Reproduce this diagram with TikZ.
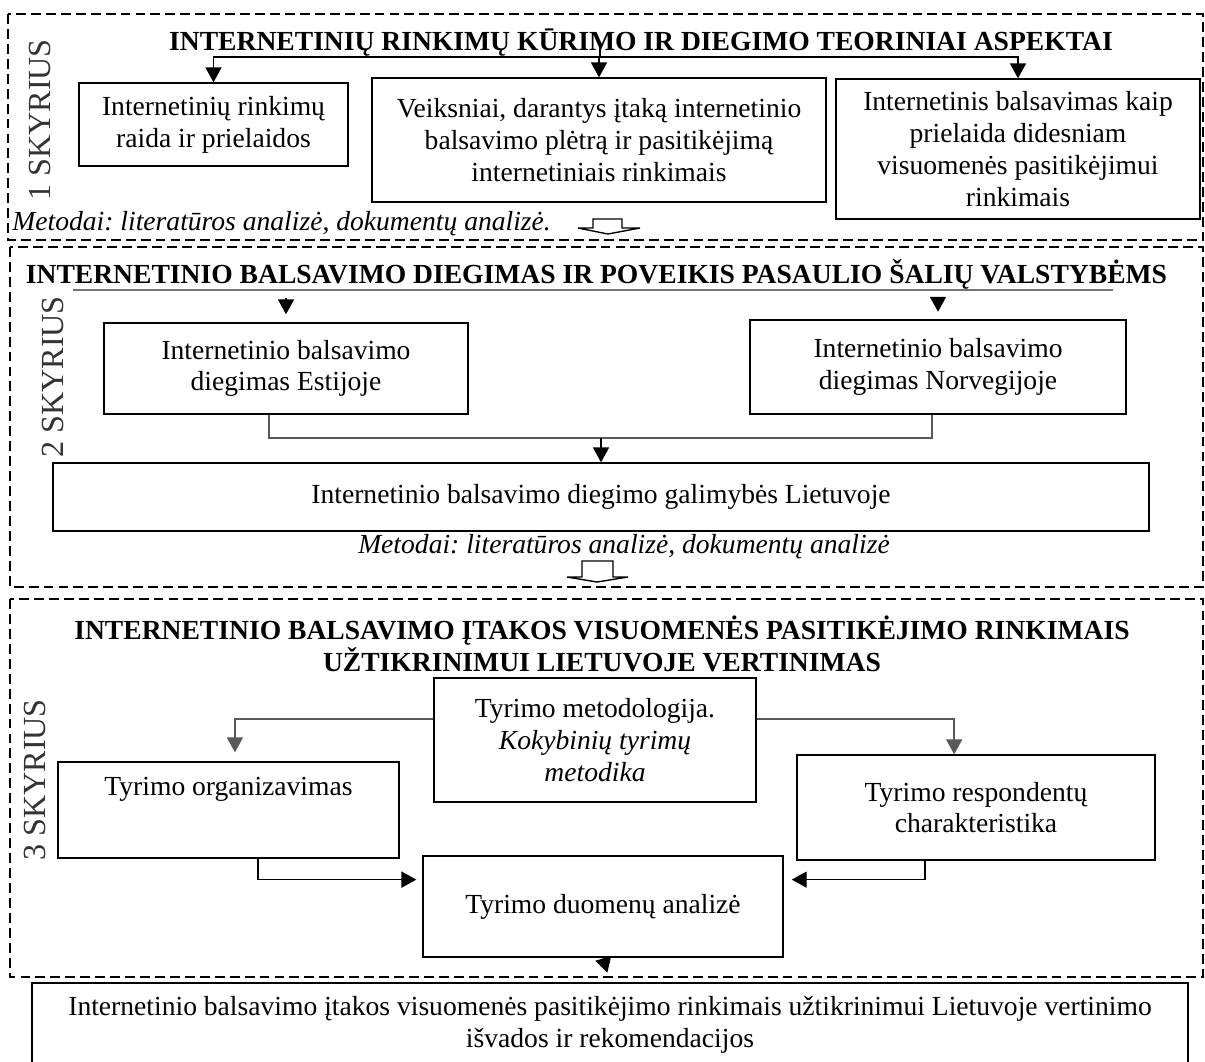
\documentclass[tikz,border=0pt]{standalone}
\usepackage{fontspec}
\setmainfont{Liberation Serif}
\usetikzlibrary{arrows.meta}
\frenchspacing

\tikzset{
  box/.style={draw, line width=0.6pt, align=center, inner sep=0pt},
  boxsize/.style 2 args={minimum width=#1*0.435pt, minimum height=#2*0.435pt},
  frame/.style={dash pattern=on 4.3pt off 2.2pt, line width=0.5pt},
  arr/.style={-{Triangle[length=6.5pt,width=7pt]}, line width=0.6pt},
  gline/.style={draw=black!65, line width=0.6pt},
  title/.style={font=\fontsize{12}{13.8}\selectfont\bfseries, align=center, inner sep=0pt},
  chapter/.style={rotate=90, font=\fontsize{14}{16}\selectfont, text=black!80, inner sep=0pt},
  method/.style={font=\fontsize{12}{13.8}\selectfont\itshape, inner sep=0pt},
  blockarr/.style={draw, line width=0.6pt, fill=white},
}

\begin{document}
\begin{tikzpicture}[x=0.435pt, y=-0.435pt, font=\fontsize{12}{13.8}\selectfont]
    \useasboundingbox (0,0) rectangle (1205,1061);
    \clip (0,0) rectangle (1205,1061);

    % dashed frames of the three chapters
    \draw[frame] (8,14) rectangle (1203,240);
    \draw[frame] (10,247) rectangle (1203,587);
    \draw[frame] (10,599) rectangle (1203,977);

    % chapter 1
    \node[chapter] (sk1) at (40,120) {1 SKYRIUS};
    \node[title, anchor=base] (t1) at (641,50) {INTERNETINIŲ RINKIMŲ KŪRIMO IR DIEGIMO TEORINIAI ASPEKTAI};
    \node[box, boxsize={269}{83}] (raida) at (213.5,124.5) {Internetinių rinkimų\\raida ir prielaidos};
    \node[box, boxsize={454}{124}] (veiksniai) at (599,140) {Veiksniai, darantys įtaką internetinio\\balsavimo plėtrą ir pasitikėjimą\\internetiniais rinkimais};
    \node[box, boxsize={364}{140}] (prielaida) at (1018,149) {Internetinis balsavimas kaip\\prielaida didesniam\\visuomenės pasitikėjimui\\rinkimais};
    \coordinate (t1split) at (600,57);
    \draw[line width=0.6pt] (t1.center -| t1split) -- (t1split);
    \draw[arr] (t1split) -| (raida.north);
    \draw[arr] (t1split) -| (prielaida.north);
    \draw[arr] (t1split -| veiksniai.north) -- (veiksniai.north);
    \node[method, anchor=base west] (met1) at (12,230) {Metodai: literatūros analizė, dokumentų analizė.};
    \draw[blockarr] (578,228) -- (593,228) -- (593,219) -- (622,219) -- (622,228) -- (640,228) -- (608,234) -- cycle;

    % chapter 2
    \node[chapter] (sk2) at (53,377) {2 SKYRIUS};
    \node[title, anchor=base] (t2) at (596.5,283) {INTERNETINIO BALSAVIMO DIEGIMAS IR POVEIKIS PASAULIO ŠALIŲ VALSTYBĖMS};
    \coordinate (u2w) at (73,290);
    \coordinate (u2e) at (1113,290);
    \draw[draw=black!55, line width=1pt] (u2w) -- (u2e);
    \node[box, boxsize={364}{91}] (estija) at (286,368.5) {Internetinio balsavimo\\diegimas Estijoje};
    \node[box, boxsize={376}{94}] (norvegija) at (938,367) {Internetinio balsavimo\\diegimas Norvegijoje};
    \draw[arr, shorten <=3.5pt, shorten >=3.5pt] (u2w -| estija.north) -- (estija.north);
    \draw[arr, shorten <=3.3pt, shorten >=3.3pt] (u2w -| norvegija.north) -- (norvegija.north);
    \node[box, boxsize={1096}{68}] (lietuva) at (601,497) {Internetinio balsavimo diegimo galimybės Lietuvoje};
    \coordinate (join2) at (601,438);
    \draw[gline] ([xshift=-7.4pt]estija.south) |- (join2) -| ([xshift=-2.6pt]norvegija.south);
    \draw[arr] (join2) -- (lietuva.north);
    \node[method, anchor=base] (met2) at (624,553) {Metodai: literatūros analizė, dokumentų analizė};
    \draw[blockarr] (567,577) -- (582,577) -- (582,561) -- (613,561) -- (613,577) -- (628,577) -- (597,582) -- cycle;

    % chapter 3
    \node[chapter] (sk3) at (35,780) {3 SKYRIUS};
    \node[title] (t3) at (602,644) {INTERNETINIO BALSAVIMO ĮTAKOS VISUOMENĖS PASITIKĖJIMO RINKIMAIS\\UŽTIKRINIMUI LIETUVOJE VERTINIMAS};
    \node[box, boxsize={322}{124}] (metod) at (595,740) {Tyrimo metodologija.\\\textit{Kokybinių tyrimų}\\\textit{metodika}};
    \node[box, boxsize={341}{96}, text height=14.4pt, text depth=27.4pt] (org) at (228.5,810) {Tyrimo organizavimas};
    \node[box, boxsize={358}{105}] (resp) at (976,807.5) {Tyrimo respondentų\\charakteristika};
    \node[box, boxsize={360}{101}] (anal) at (603,906.5) {Tyrimo duomenų analizė};
    \node[box, boxsize={1156}{83}] (isvados) at (610,1024.5) {Internetinio balsavimo įtakos visuomenės pasitikėjimo rinkimais užtikrinimui Lietuvoje vertinimo\\išvados ir rekomendacijos};
    \draw[gline, arr, shorten >=3.9pt] ([yshift=9.1pt]metod.west) -| ([xshift=2.8pt]org.north);
    \draw[gline, arr] ([yshift=9.1pt]metod.east) -| ([xshift=-9.5pt]resp.north);
    \draw[arr, shorten >=2.6pt] ([xshift=12.8pt]org.south) |- ([yshift=11.7pt]anal.west);
    \draw[arr, shorten >=3.5pt] ([xshift=-22.2pt]resp.south) |- ([yshift=11.7pt]anal.east);
    \draw[arr, shorten >=4.3pt] (anal.south) -- (isvados.north);
\end{tikzpicture}
\end{document}
